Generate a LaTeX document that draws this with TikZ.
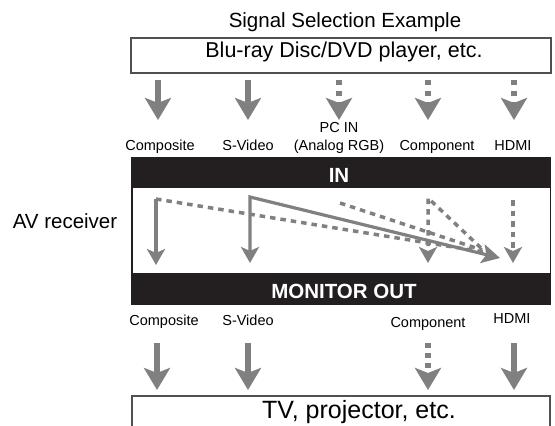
\documentclass[tikz,border=0pt]{standalone}
\usepackage{fontspec}
\setmainfont{Liberation Sans}
\usetikzlibrary{arrows.meta}
\definecolor{arrgray}{HTML}{808080}
\definecolor{barblack}{HTML}{231F20}
\definecolor{boxline}{HTML}{505050}
\begin{document}
\begin{tikzpicture}[x=1pt,y=-1pt,
  bigtip/.tip={Stealth[length=22pt,width=26pt,inset=5pt]},
  smalltip/.tip={Stealth[length=16pt,width=18pt,inset=4pt]},
  diagtip/.tip={Stealth[length=18pt,width=19pt,inset=4pt]},
  bigarrow/.style={draw=arrgray, line width=6.5pt, -{bigtip}},
  bigdash/.style={bigarrow, dash pattern=on 5pt off 6pt},
  smallarrow/.style={draw=arrgray, line width=3.2pt, line join=miter},
  smalldash/.style={draw=arrgray, line width=3.5pt, dash pattern=on 5.5pt off 5pt},
  lbl/.style={anchor=base, inner sep=0pt, font=\fontsize{14.5}{16}\selectfont},
  bigtxt/.style={anchor=base, inner sep=0pt, font=\fontsize{20.5}{24}\selectfont},
  bartxt/.style={anchor=base, inner sep=0pt, text=white, font=\fontsize{20.5}{24}\selectfont\bfseries},
  boxst/.style={draw=boxline, line width=1.2pt},
]
\useasboundingbox (0,0) rectangle (555,426);
% boxes and bars
\draw[boxst] (131,38) rectangle (551,73);
\fill[barblack] (131,157) rectangle (551,188);
\fill[barblack] (131,273) rectangle (551,305);
\draw[barblack, line width=1.5pt] (131.75,188) -- (131.75,273) (550.25,188) -- (550.25,273);
\draw[boxst] (132,426) -- (132,396) -- (550,396) -- (550,426);
% texts
\node[bigtxt] (title) at (345,27) {Signal Selection Example};
\node[bigtxt, font=\fontsize{21.5}{25}\selectfont] (src) at (344,57) {Blu-ray Disc/DVD player, etc.};
\node[bigtxt] (avr) at (65,228) {AV receiver};
\node[bartxt] (in) at (339,182) {IN};
\node[bartxt] (mon) at (344,298) {MONITOR OUT};
\node[bigtxt, font=\fontsize{25}{28}\selectfont] (tv) at (359,418) {TV, projector, etc.};
\node[lbl] (icomp) at (160,150) {Composite};
\node[lbl] (isv) at (248,150) {S-Video};
\node[lbl] (ipc1) at (339,132) {PC IN};
\node[lbl] (ipc2) at (339,150) {(Analog RGB)};
\node[lbl] (icpt) at (437,150) {Component};
\node[lbl] (ihdmi) at (513,150) {HDMI};
\node[lbl] (ocomp) at (164,325) {Composite};
\node[lbl] (osv) at (248,325) {S-Video};
\node[lbl] (ocpt) at (428,327) {Component};
\node[lbl] (ohdmi) at (512,323) {HDMI};
% coordinates
\foreach \n/\x in {a/158,b/248,c/339,d/428,e/514}{
  \coordinate (t\n) at (\x,80);
  \coordinate (u\n) at (\x,120);
}
\foreach \n/\x in {a/157,b/248,d/428,e/514}{
  \coordinate (p\n) at (\x,343);
  \coordinate (q\n) at (\x,390);
}
\coordinate (compT) at (156,199);
\coordinate (compB) at (156,265);
\coordinate (compD) at (484,252);
\coordinate (svT) at (250,197);
\coordinate (svB) at (250,263);
\coordinate (svD) at (500,258);
\coordinate (pcT) at (340,203);
\coordinate (pcD) at (482,250);
\coordinate (cpT) at (428,198);
\coordinate (cpB) at (428,263);
\coordinate (cpD) at (481,248);
\coordinate (hdT) at (513,200);
\coordinate (hdB) at (513,263);
% top arrows
\draw[bigarrow] (ta) -- (ua);
\draw[bigarrow] (tb) -- (ub);
\draw[bigdash] (tc) -- (uc);
\draw[bigdash] (td) -- (ud);
\draw[bigdash] (te) -- (ue);
% bottom arrows
\draw[bigarrow] (pa) -- (qa);
\draw[bigarrow] (pb) -- (qb);
\draw[bigdash, dash pattern=on 5pt off 5pt] (pd) -- (qd);
\draw[bigarrow] (pe) -- (qe);
% inner routing
\draw[smalldash] (compT) -- (compD);
\draw[smalldash] (pcT) -- (pcD);
\draw[smalldash, line join=round, -{smalltip}] (cpD) -- (cpT) -- (cpB);
\draw[smalldash, -{smalltip}] (hdT) -- (hdB);
\draw[smallarrow, -{smalltip}] (compT) -- (compB);
\draw[smallarrow, {smalltip}-{diagtip}] (svB) -- (svT) -- (svD);
\end{tikzpicture}
\end{document}
